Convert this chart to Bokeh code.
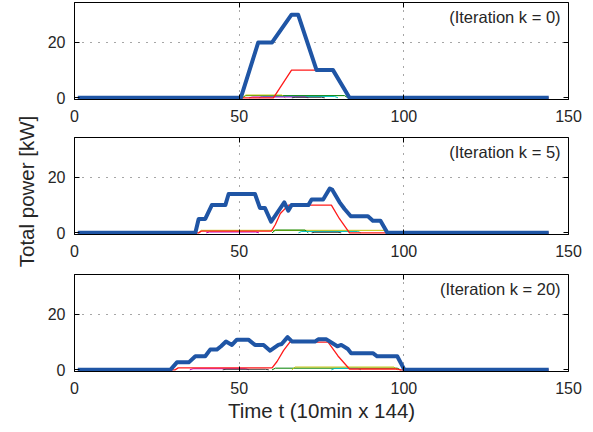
import math
from bokeh.plotting import figure
from bokeh.layouts import column, row
from bokeh.models import Label, FixedTicker, Range1d, LinearAxis, CustomJSTickFormatter
from bokeh.embed import file_html
from bokeh.resources import INLINE

# ---------------- data ----------------
x_ticks = [0, 50, 100, 150]
y_ticks = [0, 20]
titles = ["(Iteration k = 0)", "(Iteration k = 5)", "(Iteration k = 20)"]

# iteration k = 0
k0_total_t = [1, 50.5, 55.8, 60, 65.9, 67.9, 73.5, 78.5, 83.5, 144]
k0_total_p = [0, 0, 20, 20, 30, 30, 10, 10, 0, 0]
k0_red_t = [1, 60.4, 65.9, 78.5, 83.5, 144]
k0_red_p = [0, 0, 10, 10, 0, 0]
k0_green_t = [51, 52, 82, 83]
k0_green_p = [0, 0.8, 0.8, 0]
k0_olive_t = [51, 52, 63, 64]
k0_olive_p = [0, 1.0, 1.0, 0]
k0_cyan_t = [56, 57, 79, 80]
k0_cyan_p = [0, 0.5, 0.5, 0]
k0_magenta_t = [53, 54, 70, 71]
k0_magenta_p = [0, 0.3, 0.3, 0]
k0_gray_t = [66, 67, 75, 76]
k0_gray_p = [0, 0.2, 0.2, 0]

# iteration k = 5
k5_total_t = [1, 36.7, 37.7, 39.7, 41.7, 45.8, 46.8, 54.8, 56.3, 57.8, 59.7, 63.7,
              64.9, 65.9, 71, 72, 75.5, 77.5, 78.3, 80.5, 82, 83.9, 89.1, 90.6,
              92.9, 95, 144]
k5_total_p = [0, 0, 5, 5, 10, 10, 14, 14, 9, 9, 4, 11,
              8, 10, 10, 12, 12, 16, 15.5, 11, 8.6, 6, 6, 4.4,
              4.4, 0, 0]
k5_red_t = [1, 37.7, 38.5, 59.8, 61, 62.5, 65, 78, 80.5, 83.5, 144]
k5_red_p = [0, 0, 0.6, 0.6, 3, 7, 10, 10, 5, 0, 0]
k5_olive_t = [37.7, 38.5, 94, 95]
k5_olive_p = [0, 0.9, 0.9, 0]
k5_green_t = [60, 61, 70, 71]
k5_green_p = [0, 1.0, 1.0, 0]
k5_cyan_t = [68, 69, 86, 87]
k5_cyan_p = [0, 0.5, 0.5, 0]
k5_magenta_t = [40, 41, 55, 56]
k5_magenta_p = [0, 0.3, 0.3, 0]
k5_gray_t = [72, 73, 80, 81]
k5_gray_p = [0, 0.2, 0.2, 0]

# iteration k = 20
k20_total_t = [1, 29.1, 31.1, 34.7, 36.7, 39.7, 41.2, 43.2, 44.5, 46, 47.8, 49.3,
               52.8, 54.8, 57.4, 59.4, 61.9, 62.9, 64.7, 66.1, 73, 74, 76.5, 79.8,
               81, 83, 84, 90.6, 91.9, 98, 100.2, 144]
k20_total_p = [0, 0, 2.7, 2.7, 4.9, 4.9, 7.3, 7.3, 8.5, 10.2, 9, 10.9,
               10.9, 9, 9, 6.9, 9, 9.3, 11.8, 10.2, 10.2, 11, 11, 8.5,
               9, 7.5, 6, 6, 4.9, 4.9, 0, 0]
k20_red_t = [1, 30.5, 31.5, 60, 61.5, 63.5, 65.4, 77, 80, 83.5, 98, 99, 144]
k20_red_p = [0, 0, 0.7, 0.7, 3, 7, 10, 10, 5, 0.3, 0.3, 0, 0]
k20_green_t = [60, 61, 98, 99]
k20_green_p = [0, 0.6, 0.6, 0]
k20_olive_t = [66, 67, 97, 98]
k20_olive_p = [0, 1.0, 1.0, 0]
k20_cyan_t = [78, 79, 86, 87]
k20_cyan_p = [0, 0.5, 0.5, 0]
k20_magenta_t = [35, 36, 52, 53]
k20_magenta_p = [0, 0.4, 0.4, 0]
k20_gray_t = [45, 46, 58, 59]
k20_gray_p = [0, 0.2, 0.2, 0]

y_label = "Total power [kW]"
x_label = "Time t (10min x 144)"

# ---------------- styling ----------------
FONT = "Liberation Sans"
TXT = "#262626"
BLUE = "#1f55a5"
RED = "#ff1a1a"
GREEN = "#008000"
OLIVE = "#bfbf00"
CYAN = "#00bfbf"
MAGENTA = "#bf00bf"
GRAY = "#404040"

LEFT_W = 44          # width of the strip that holds the y label
PANEL_W = 593 - LEFT_W


def tick_only_axis(ticks):
    ax = LinearAxis(ticker=FixedTicker(ticks=ticks),
                    formatter=CustomJSTickFormatter(code="return ''"))
    ax.axis_line_color = None
    ax.major_tick_line_color = "black"
    ax.major_tick_in = 5
    ax.major_tick_out = 0
    ax.minor_tick_line_color = None
    ax.major_label_standoff = 0
    ax.major_label_text_font_size = "1px"
    return ax


def panel(height, top, bottom, title, tot_t, tot_p, red_t, red_p, smalls, xlabel=None):
    p = figure(width=PANEL_W, height=height, output_backend="svg", toolbar_location=None,
               x_range=Range1d(0, 150), y_range=Range1d(-0.6, 34.4),
               min_border_left=72 - LEFT_W, min_border_right=25,
               min_border_top=top, min_border_bottom=bottom)
    p.background_fill_color = "white"
    p.border_fill_color = "white"
    p.outline_line_color = "black"
    p.outline_line_width = 1

    for (t, v, c) in smalls:
        p.line(t, v, line_color=c, line_width=1)
    p.line(red_t, red_p, line_color=RED, line_width=1.3)
    p.line(tot_t, tot_p, line_color=BLUE, line_width=4, line_join="round")

    for ax in (p.xaxis, p.yaxis):
        ax.axis_line_color = "black"
        ax.major_tick_line_color = "black"
        ax.major_tick_in = 5
        ax.major_tick_out = 0
        ax.minor_tick_line_color = None
        ax.major_label_text_font = FONT
        ax.major_label_text_font_size = "16px"
        ax.major_label_text_color = TXT
        ax.axis_label_text_font = FONT
        ax.axis_label_text_font_size = "20.5px"
        ax.axis_label_text_font_style = "normal"
        ax.axis_label_text_color = TXT
    p.xaxis.ticker = FixedTicker(ticks=x_ticks)
    p.yaxis.ticker = FixedTicker(ticks=y_ticks)
    p.xaxis.major_label_standoff = 10
    p.yaxis.major_label_standoff = 9
    if xlabel:
        p.xaxis.axis_label = xlabel
        p.xaxis.axis_label_standoff = 2

    p.add_layout(tick_only_axis(x_ticks), "above")
    p.add_layout(tick_only_axis(y_ticks), "right")

    p.xgrid.ticker = FixedTicker(ticks=[50, 100])
    p.ygrid.ticker = FixedTicker(ticks=[20])
    for g in (p.xgrid, p.ygrid):
        g.grid_line_color = "#4d4d4d"
        g.grid_line_dash = "1 7"
        g.grid_line_width = 1

    p.add_layout(Label(x=147.6, y=29.2, text=title, text_align="right",
                       text_baseline="middle", text_font=FONT,
                       text_font_size="16.5px", text_color=TXT))
    return p


f1 = panel(130, 2, 31, titles[0], k0_total_t, k0_total_p, k0_red_t, k0_red_p,
           [(k0_green_t, k0_green_p, GREEN), (k0_olive_t, k0_olive_p, OLIVE),
            (k0_cyan_t, k0_cyan_p, CYAN), (k0_magenta_t, k0_magenta_p, MAGENTA),
            (k0_gray_t, k0_gray_p, GRAY)])
f2 = panel(135, 7, 31, titles[1], k5_total_t, k5_total_p, k5_red_t, k5_red_p,
           [(k5_olive_t, k5_olive_p, OLIVE), (k5_green_t, k5_green_p, GREEN),
            (k5_cyan_t, k5_cyan_p, CYAN), (k5_magenta_t, k5_magenta_p, MAGENTA),
            (k5_gray_t, k5_gray_p, GRAY)])
f3 = panel(167, 9, 61, titles[2], k20_total_t, k20_total_p, k20_red_t, k20_red_p,
           [(k20_green_t, k20_green_p, GREEN), (k20_olive_t, k20_olive_p, OLIVE),
            (k20_cyan_t, k20_cyan_p, CYAN), (k20_magenta_t, k20_magenta_p, MAGENTA),
            (k20_gray_t, k20_gray_p, GRAY)],
           xlabel=x_label)

# strip holding the shared y-axis label
lab = figure(width=LEFT_W, height=432, output_backend="svg", toolbar_location=None,
             x_range=Range1d(0, LEFT_W), y_range=Range1d(0, 432),
             x_axis_type=None, y_axis_type=None,
             min_border_left=0, min_border_right=0, min_border_top=0, min_border_bottom=0)
lab.outline_line_color = None
lab.grid.visible = False
lab.background_fill_color = "white"
lab.border_fill_color = "white"
lab.add_layout(Label(x=26, y=432 - 191, text=y_label, angle=math.pi / 2,
                     text_align="center", text_baseline="middle", text_font=FONT,
                     text_font_size="20.5px", text_color=TXT))

layout = row(lab, column(f1, f2, f3, spacing=0), spacing=0)
open("out.html", "w").write(file_html(layout, INLINE))
